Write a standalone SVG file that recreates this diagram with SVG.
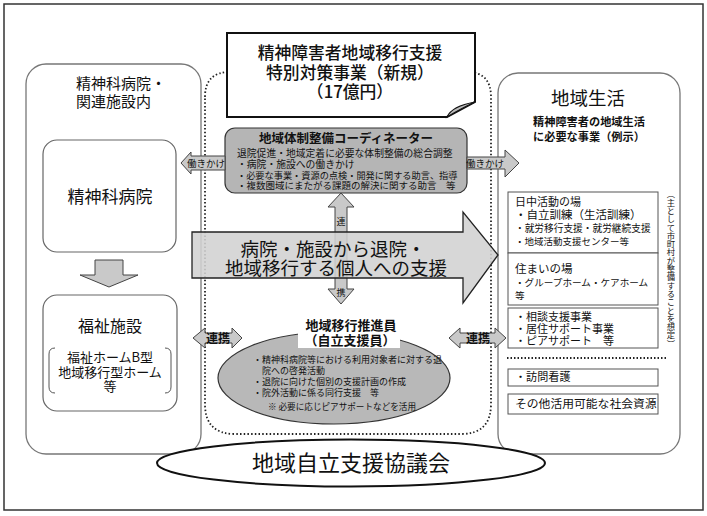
<svg xmlns="http://www.w3.org/2000/svg" width="707" height="516" viewBox="0 0 707 516">
<style>
text{font-family:"Noto Sans CJK JP","Noto Sans",sans-serif;fill:#111}
.panel{fill:#fff;stroke:#777;stroke-width:1.3}
.box{fill:#fff;stroke:#666;stroke-width:1.2}
.rbox{fill:#fff;stroke:#555;stroke-width:1}
.arr{fill:#c9c9c9;stroke:#444;stroke-width:1}
.c{text-anchor:middle}
.b{font-weight:bold}
</style>
<rect x="4" y="4" width="699" height="506" fill="#fff" stroke="#333" stroke-width="1.5"/>

<g id="left-panel">
<rect class="panel" x="26" y="64" width="175" height="390" rx="20"/>
<text font-size="15" fill="#333"><tspan x="76" y="89">精神科病院・</tspan><tspan x="76" y="107">関連施設内</tspan></text>
</g>
<g id="psych-hospital">
<rect class="box" x="43" y="140" width="133" height="112" rx="14"/>
<text class="c" x="110" y="203" font-size="17" fill="#333">精神科病院</text>
</g>
<g id="welfare">
<rect class="box" x="43" y="295" width="134" height="116" rx="14"/>
<text class="c" x="110" y="332" font-size="16" fill="#333">福祉施設</text>
<path d="M55 348 Q49 348 49 354 L49 387 Q49 393 55 393 M165 348 Q171 348 171 354 L171 387 Q171 393 165 393" fill="none" stroke="#555" stroke-width="1"/>
<text class="c" font-size="13" fill="#333"><tspan x="110" y="362">福祉ホームB型</tspan><tspan x="110" y="377">地域移行型ホーム</tspan><tspan x="110" y="391">等</tspan></text>
</g>

<g id="right-panel">
<rect class="panel" x="498" y="73" width="182" height="381" rx="20"/>
<text class="c" x="588" y="105" font-size="18.5" fill="#222">地域生活</text>
<text class="c b" font-size="11.2"><tspan x="589" y="126">精神障害者の地域生活</tspan><tspan x="589" y="141">に必要な事業（例示）</tspan></text>
<text x="671" y="190" font-size="8.3" style="writing-mode:vertical-rl" fill="#333">（主として市町村が整備することを想定）</text>
</g>
<g id="day-activity">
<rect class="rbox" x="508" y="192" width="150" height="61"/>
<text><tspan x="515" y="206" font-size="11">日中活動の場</tspan><tspan x="515" y="219" font-size="11.5">・自立訓練（生活訓練）</tspan><tspan x="515" y="232" font-size="9.7">・就労移行支援・就労継続支援</tspan><tspan x="515" y="245" font-size="9.5">・地域活動支援センター等</tspan></text>
</g>
<g id="residence">
<rect class="rbox" x="508" y="253" width="150" height="52"/>
<text><tspan x="515" y="273" font-size="11.5">住まいの場</tspan><tspan x="515" y="286" font-size="9.6">・グループホーム・ケアホーム</tspan><tspan x="515" y="299" font-size="9.6">等</tspan></text>
</g>
<g id="consult">
<rect class="rbox" x="508" y="308" width="150" height="40"/>
<text font-size="11"><tspan x="515" y="321">・相談支援事業</tspan><tspan x="515" y="333">・居住サポート事業</tspan><tspan x="515" y="345">・ピアサポート　等</tspan></text>
</g>
<line x1="507" y1="358" x2="667" y2="358" stroke="#222" stroke-width="1.8" stroke-dasharray="1.5 2"/>
<g id="nursing">
<rect class="rbox" x="508" y="369" width="150" height="17"/>
<text x="515" y="381" font-size="11.1">・訪問看護</text>
</g>
<g id="other-resources">
<rect class="rbox" x="508" y="394" width="150" height="20"/>
<text x="515" y="408" font-size="11.8">その他活用可能な社会資源</text>
</g>

<g id="special-project-area">
<path d="M205 97 Q205 72 230 72 L467 72 Q491 72 491 97 L491 404 Q491 434 461 434 L235 434 Q205 434 205 404 Z" fill="none" stroke="#222" stroke-width="1.8" stroke-dasharray="1.5 2.2"/>
</g>
<g id="title">
<path d="M227 33 L475 33 L475 102 L447 117 L227 117 Z" fill="#fff" stroke="#111" stroke-width="2"/>
<path d="M447 117 Q452 106 475 102 Q462 108 447 117 Z" fill="#bbb" stroke="#111" stroke-width="1.2"/>
<text class="c" font-size="16.8" font-weight="500"><tspan x="350" y="59">精神障害者地域移行支援</tspan><tspan x="350" y="79">特別対策事業（新規）</tspan><tspan x="350" y="98">（17億円）</tspan></text>
</g>

<g id="coordinator">
<rect x="225" y="128" width="242" height="65" rx="10" fill="#b5b5b5" stroke="#333" stroke-width="1.2"/>
<text class="c b" x="346" y="143" font-size="12.5">地域体制整備コーディネーター</text>
<text><tspan x="237" y="157" font-size="9.8">退院促進・地域定着に必要な体制整備の総合調整</tspan><tspan x="237" y="168" font-size="9.8">・病院・施設への働きかけ</tspan><tspan x="237" y="178.5" font-size="9.2">・必要な事業・資源の点検・開発に関する助言、指導</tspan><tspan x="237" y="189" font-size="9.5">・複数圏域にまたがる課題の解決に関する助言　等</tspan></text>
</g>

<g id="connectors">
<g id="hataraki-left">
<path class="arr" d="M181 163 L191 152 L191 156 L225 156 L225 170 L191 170 L191 174 Z"/>
<text class="c" x="206" y="166.5" font-size="9.5">働きかけ</text>
</g>
<g id="hataraki-right">
<path class="arr" d="M467 157 L505 157 L505 150 L519 163 L505 177 L505 169 L467 169 Z"/>
<text class="c" x="485" y="166.5" font-size="9.5">働きかけ</text>
</g>
<g id="renkei-vertical">
<path class="arr" d="M341 193 L354 207 L347 207 L347 289 L354 289 L341 304 L328 289 L335 289 L335 207 L328 207 Z"/>
<text class="c" x="341" y="225" font-size="9">連</text>
<text class="c" x="341" y="296" font-size="9">携</text>
</g>
<g id="main-arrow">
<path d="M192 232 L463 232 L463 212 L498 255 L463 303 L463 278 L192 278 Z" fill="#d2d2d2" fill-opacity="0.88" stroke="#222" stroke-width="1.3"/>
<text class="c" font-size="18.5"><tspan x="333" y="256">病院・施設から退院・</tspan><tspan x="336" y="275">地域移行する個人への支援</tspan></text>
</g>
<g id="renkei-left">
<path class="arr" d="M193 338 L205 328 L205 333 L232 333 L232 328 L242 338 L232 348 L232 343 L205 343 L205 348 Z"/>
<text class="c b" x="218" y="342.5" font-size="12">連携</text>
</g>
<g id="renkei-right">
<path class="arr" d="M449 338 L460 328 L460 333 L495 333 L495 328 L506 338 L495 348 L495 343 L460 343 L460 348 Z"/>
<text class="c b" x="478" y="342.5" font-size="12">連携</text>
</g>
<path id="down-arrow" class="arr" d="M95 260 L123 260 L123 275 L138 275 L109 287 L80 275 L95 275 Z" fill="#cfcfcf" stroke="#888"/>
</g>

<g id="transition-promoter">
<ellipse cx="334" cy="378" rx="116" ry="46" fill="#b8b8b8" stroke="#333" stroke-width="1.2"/>
<rect x="298" y="317" width="102" height="31" fill="#fff"/>
<text class="c b" font-size="13"><tspan x="351" y="330">地域移行推進員</tspan><tspan x="350" y="345">（自立支援員）</tspan></text>
<text font-size="9"><tspan x="253" y="363">・精神科病院等における利用対象者に対する退</tspan><tspan x="253" y="374">　院への啓発活動</tspan><tspan x="253" y="385">・退院に向けた個別の支援計画の作成</tspan><tspan x="253" y="396">・院外活動に係る同行支援　等</tspan><tspan x="268" y="410" font-size="8.6">※ 必要に応じピアサポートなどを活用</tspan></text>
</g>

<g id="council">
<ellipse cx="351" cy="463" rx="194" ry="23.5" fill="#fff" stroke="#111" stroke-width="2"/>
<text class="c" x="351" y="471" font-size="22" fill="#222">地域自立支援協議会</text>
</g>
</svg>
